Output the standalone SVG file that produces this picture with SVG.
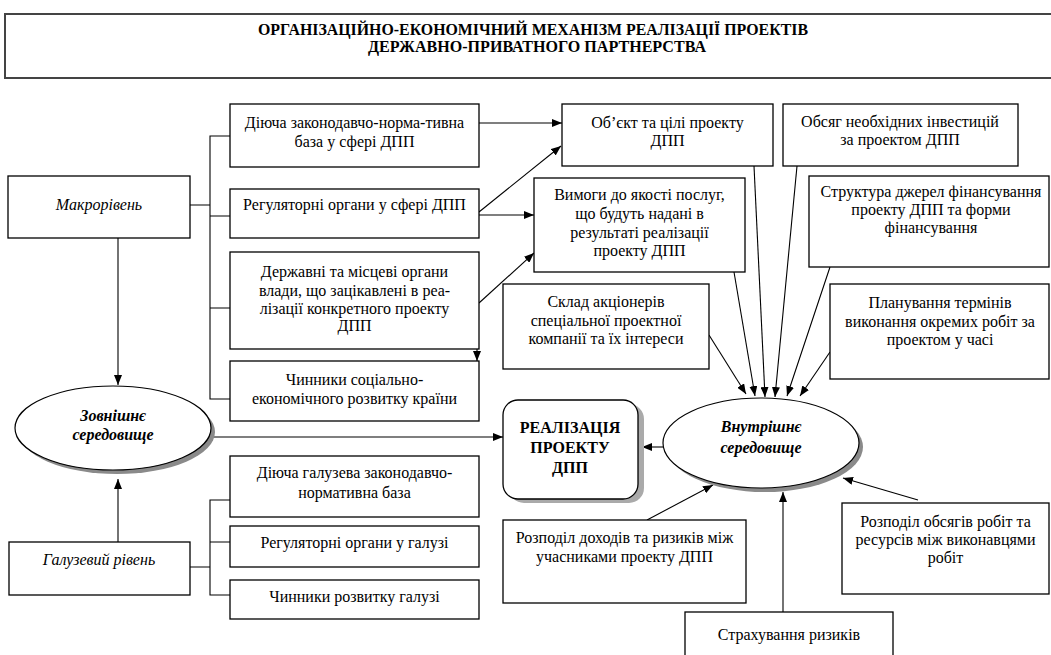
<svg xmlns="http://www.w3.org/2000/svg" width="1051" height="655" viewBox="0 0 1051 655">
<style>
.box{fill:#fff;stroke:#000;stroke-width:1.3}
.t{font-family:"Liberation Serif","Times New Roman",serif;font-size:16px;fill:#000;text-anchor:middle}
.it{font-style:italic}
.b{font-weight:bold}
.ln{fill:none;stroke:#000;stroke-width:1.1}
.ar{fill:none;stroke:#000;stroke-width:1.1;marker-end:url(#ah)}
.sh{fill:#8a8a8a}
</style>
<defs>
<marker id="ah" markerUnits="userSpaceOnUse" markerWidth="10" markerHeight="8" refX="10" refY="4" orient="auto">
<path d="M0,0 L10,4 L0,8 z" fill="#000"/>
</marker>
</defs>
<rect width="1051" height="655" fill="#fff"/>

<g id="title">
<rect x="5" y="14" width="1060" height="64" fill="#fff" stroke="#444" stroke-width="2"/>
<text class="t b" x="533" y="35" font-size="14" textLength="550" lengthAdjust="spacingAndGlyphs">ОРГАНІЗАЦІЙНО-ЕКОНОМІЧНИЙ МЕХАНІЗМ РЕАЛІЗАЦІЇ ПРОЕКТІВ</text>
<text class="t b" x="537" y="52" font-size="14" textLength="338" lengthAdjust="spacingAndGlyphs">ДЕРЖАВНО-ПРИВАТНОГО ПАРТНЕРСТВА</text>
</g>

<g id="connectors">
<!-- upper bracket -->
<path class="ln" d="M190,205 H210 M230,136 H210 V399 H230 M210,216 H230 M210,308 H230"/>
<!-- lower bracket -->
<path class="ln" d="M190,567 H210 M230,500 H210 V595 H230 M210,542 H230"/>
<!-- macro down to external -->
<line class="ar" x1="118" y1="238" x2="118" y2="385"/>
<!-- sector up to external -->
<line class="ar" x1="118" y1="542" x2="118" y2="479"/>
<!-- box3 to box4 -->
<line class="ar" x1="477" y1="349" x2="477" y2="361"/>
<!-- to object -->
<line class="ar" x1="479" y1="123" x2="562" y2="123"/>
<line class="ar" x1="479" y1="212" x2="561" y2="146"/>
<!-- to requirements -->
<line class="ar" x1="479" y1="215" x2="534" y2="215"/>
<line class="ar" x1="479" y1="303" x2="534" y2="253"/>
<!-- external to realization -->
<line class="ar" x1="212" y1="437" x2="503" y2="437"/>
<!-- internal to realization -->
<line class="ar" x1="663" y1="447" x2="642" y2="447"/>
<!-- into internal top -->
<line class="ar" x1="709" y1="335" x2="746" y2="394"/>
<line class="ar" x1="734" y1="272" x2="755" y2="396"/>
<line class="ar" x1="754" y1="166" x2="765" y2="397"/>
<line class="ar" x1="797" y1="166" x2="775" y2="397"/>
<line class="ar" x1="830" y1="267" x2="787" y2="396"/>
<line class="ar" x1="830" y1="352" x2="800" y2="396"/>
<!-- into internal bottom -->
<line class="ar" x1="647" y1="520" x2="713" y2="485"/>
<line class="ar" x1="783" y1="612" x2="783" y2="492"/>
<line class="ar" x1="918" y1="500" x2="843" y2="478"/>
</g>

<g id="macro">
<rect class="box" x="8" y="176" width="182" height="62"/>
<text class="t it" x="99" y="210">Макрорівень</text>
</g>
<g id="sector">
<rect class="box" x="9" y="542" width="181" height="53"/>
<text class="t it" x="99" y="565">Галузевий рівень</text>
</g>

<g id="external">
<ellipse class="sh" cx="117" cy="432" rx="98" ry="42"/>
<ellipse cx="113" cy="428" rx="98" ry="42" fill="#fff" stroke="#000" stroke-width="1.2"/>
<text class="t b it" x="113" y="421">Зовнішнє</text>
<text class="t b it" x="113" y="440">середовище</text>
</g>

<g id="m1">
<rect class="box" x="230" y="104" width="249" height="63"/>
<text class="t" x="354.5" y="128">Діюча законодавчо-норма-тивна</text>
<text class="t" x="354.5" y="147">база у сфері ДПП</text>
</g>
<g id="m2">
<rect class="box" x="230" y="189" width="249" height="49"/>
<text class="t" x="354.5" y="210">Регуляторні органи у сфері ДПП</text>
</g>
<g id="m3">
<rect class="box" x="230" y="252" width="249" height="97"/>
<text class="t" x="354.5" y="277">Державні та місцеві органи</text>
<text class="t" x="354.5" y="296">влади, що зацікавлені в реа-</text>
<text class="t" x="354.5" y="314">лізації конкретного проекту</text>
<text class="t" x="354.5" y="331">ДПП</text>
</g>
<g id="m4">
<rect class="box" x="230" y="361" width="249" height="60"/>
<text class="t" x="354.5" y="385">Чинники соціально-</text>
<text class="t" x="354.5" y="404">економічного розвитку країни</text>
</g>

<g id="g1">
<rect class="box" x="230" y="456" width="249" height="61"/>
<text class="t" x="354.5" y="478">Діюча галузева законодавчо-</text>
<text class="t" x="354.5" y="498">нормативна база</text>
</g>
<g id="g2">
<rect class="box" x="230" y="526" width="249" height="41"/>
<text class="t" x="354.5" y="548">Регуляторні органи у галузі</text>
</g>
<g id="g3">
<rect class="box" x="230" y="580" width="249" height="39"/>
<text class="t" x="354.5" y="602">Чинники розвитку галузі</text>
</g>

<g id="object">
<rect class="box" x="562" y="104" width="211" height="62"/>
<text class="t" x="667.5" y="128">Об’єкт та цілі проекту</text>
<text class="t" x="667.5" y="146">ДПП</text>
</g>
<g id="invest">
<rect class="box" x="783" y="104" width="235" height="62"/>
<text class="t" x="900" y="127">Обсяг необхідних інвестицій</text>
<text class="t" x="900" y="145">за проектом ДПП</text>
</g>
<g id="quality">
<rect class="box" x="534" y="178" width="211" height="94"/>
<text class="t" x="639.5" y="200">Вимоги до якості послуг,</text>
<text class="t" x="639.5" y="219">що будуть надані в</text>
<text class="t" x="639.5" y="238">результаті реалізації</text>
<text class="t" x="639.5" y="256">проекту ДПП</text>
</g>
<g id="finance">
<rect class="box" x="809" y="176" width="240" height="91"/>
<text class="t" x="931" y="197">Структура джерел фінансування</text>
<text class="t" x="931" y="215">проекту ДПП та форми</text>
<text class="t" x="931" y="233">фінансування</text>
</g>
<g id="shareholders">
<rect class="box" x="503" y="284" width="206" height="85"/>
<text class="t" x="606" y="307">Склад акціонерів</text>
<text class="t" x="606" y="326">спеціальної проектної</text>
<text class="t" x="606" y="344">компанії та їх інтереси</text>
</g>
<g id="planning">
<rect class="box" x="830" y="284" width="219" height="95"/>
<text class="t" x="940" y="308">Планування термінів</text>
<text class="t" x="940" y="327">виконання окремих робіт за</text>
<text class="t" x="940" y="345">проектом у часі</text>
</g>

<g id="realization">
<rect x="509" y="404" width="135" height="99" rx="15" fill="#aaa"/>
<rect x="503" y="400" width="135" height="99" rx="15" fill="#fff" stroke="#000" stroke-width="1.3"/>
<text class="t b" x="570" y="433">РЕАЛІЗАЦІЯ</text>
<text class="t b" x="570" y="453">ПРОЕКТУ</text>
<text class="t b" x="570" y="473">ДПП</text>
</g>

<g id="internal">
<ellipse class="sh" cx="765" cy="447" rx="98" ry="45"/>
<ellipse cx="761" cy="443" rx="98" ry="45" fill="#fff" stroke="#000" stroke-width="1.2"/>
<text class="t b it" x="761" y="432">Внутрішнє</text>
<text class="t b it" x="761" y="453">середовище</text>
</g>

<g id="income">
<rect class="box" x="503" y="520" width="243" height="83"/>
<text class="t" x="624.5" y="543">Розподіл доходів та ризиків між</text>
<text class="t" x="624.5" y="562">учасниками проекту ДПП</text>
</g>
<g id="insurance">
<rect class="box" x="685" y="612" width="208" height="60"/>
<text class="t" x="789" y="640">Страхування ризиків</text>
</g>
<g id="resources">
<rect class="box" x="842" y="503" width="207" height="91"/>
<text class="t" x="945.5" y="527">Розподіл обсягів робіт та</text>
<text class="t" x="945.5" y="545">ресурсів між виконавцями</text>
<text class="t" x="945.5" y="563">робіт</text>
</g>
</svg>
